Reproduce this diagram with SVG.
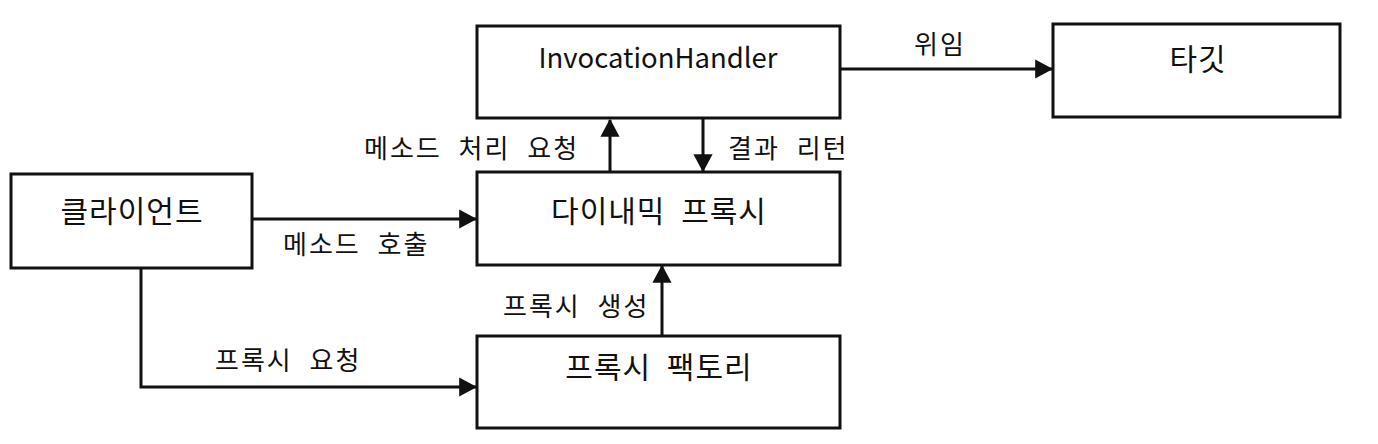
<svg xmlns="http://www.w3.org/2000/svg" width="1378" height="444" viewBox="0 0 1378 444">
<defs>
<marker id="ah" markerWidth="6" markerHeight="6.4" refX="5.6" refY="3.2" orient="auto" markerUnits="strokeWidth">
<path d="M0,0 L6,3.2 L0,6.4 Z" fill="#111"/>
</marker>
<style>
.box{fill:#fff;stroke:#111;stroke-width:3}
.t{font-family:"Noto Sans CJK KR","Malgun Gothic",sans-serif;font-size:30px;letter-spacing:1px;word-spacing:8px;fill:#111;text-anchor:middle}
.e{font-size:27.5px;letter-spacing:0}
.l{font-family:"Noto Sans CJK KR","Malgun Gothic",sans-serif;font-size:26px;letter-spacing:2px;word-spacing:9px;fill:#111}
.c{fill:none;stroke:#111;stroke-width:3;marker-end:url(#ah)}
</style>
</defs>
<rect width="1378" height="444" fill="#fff"/>
<g id="connectors">
<path class="c" d="M840,69 L1052,69"/>
<path class="c" d="M610,172 L610,120"/>
<path class="c" d="M703,118 L703,171"/>
<path class="c" d="M252,219 L476,219"/>
<path class="c" d="M662,336 L662,266"/>
<path class="c" d="M141,268 L141,387 L476,387"/>
<text class="l" x="914" y="54">위임</text>
<text class="l" x="364" y="158">메소드 처리 요청</text>
<text class="l" x="728" y="158">결과 리턴</text>
<text class="l" x="283" y="254">메소드 호출</text>
<text class="l" x="503" y="316">프록시 생성</text>
<text class="l" x="215" y="370">프록시 요청</text>
</g>
<g id="invocationHandler">
<rect class="box" x="477" y="26" width="363" height="92"/>
<text class="t e" x="658" y="68">InvocationHandler</text>
</g>
<g id="target">
<rect class="box" x="1053" y="24" width="287" height="93"/>
<text class="t" x="1198" y="70">타깃</text>
</g>
<g id="client">
<rect class="box" x="11" y="174" width="241" height="94"/>
<text class="t" x="132" y="222">클라이언트</text>
</g>
<g id="dynamicProxy">
<rect class="box" x="477" y="172" width="363" height="93"/>
<text class="t" x="659" y="222">다이내믹 프록시</text>
</g>
<g id="proxyFactory">
<rect class="box" x="477" y="336" width="363" height="92"/>
<text class="t" x="659" y="378">프록시 팩토리</text>
</g>
</svg>
